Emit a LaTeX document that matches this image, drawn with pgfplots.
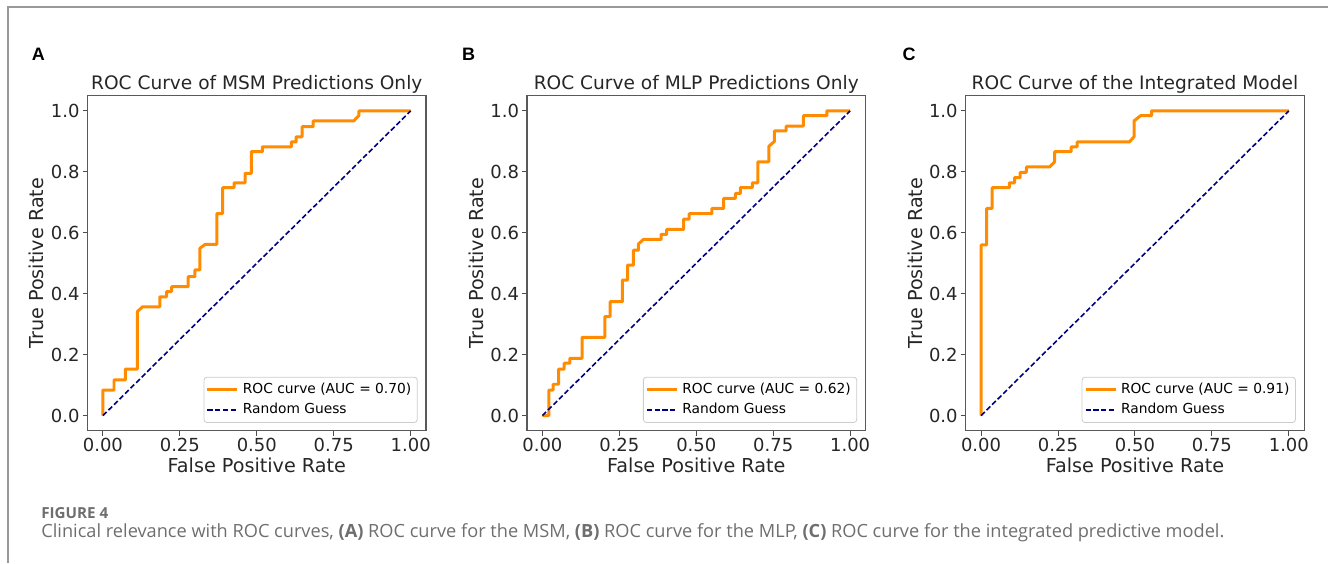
\documentclass[border=0pt]{standalone}
\usepackage{fontspec}
\setmainfont{DejaVu Sans}
\newfontfamily\capfont{Open Sans}
\newfontfamily\letfont{Liberation Sans}
\usepackage{pgfplots}
\pgfplotsset{compat=1.18}
\definecolor{roc}{HTML}{FF8C00}
\definecolor{guess}{HTML}{000080}
\definecolor{capgray}{HTML}{6E6E6E}

\tikzset{letter/.style={anchor=base west, inner sep=0pt, font=\letfont\fontsize{9}{10}\selectfont\bfseries}}

\pgfplotsset{
  rocaxis/.style={
    scale only axis,
    width=169.4pt, height=167.75pt,
    anchor=south west,
    xmin=-0.05, xmax=1.05, ymin=-0.05, ymax=1.05,
    xtick={0,0.25,0.5,0.75,1},
    xticklabels={0.00,0.25,0.50,0.75,1.00},
    ytick={0,0.2,0.4,0.6,0.8,1},
    yticklabels={0.0,0.2,0.4,0.6,0.8,1.0},
    tick align=outside,
    major tick length=2.5pt,
    xtick pos=bottom, ytick pos=left,
    every tick/.style={black!70, line width=0.5pt},
    axis line style={black!65, line width=0.6pt},
    /pgf/number format/assume math mode=true,
    tick label style={font=\fontsize{9}{10}\selectfont, black!85},
    xticklabel style={yshift=2.5pt},
    yticklabel style={xshift=2pt},
    label style={font=\fontsize{9.6}{11}\selectfont, black!85},
    xlabel style={yshift=3.5pt},
    ylabel style={yshift=-3.5pt},
    title style={font=\fontsize{9.3}{11}\selectfont, black!85, yshift=-8.5pt},
    xlabel={False Positive Rate},
    ylabel={True Positive Rate},
    legend style={at={(1,0)}, anchor=south east, xshift=-4.2pt, yshift=4pt,
      draw=black!20, rounded corners=1.5pt, fill=white,
      font=\fontsize{6.9}{8}\selectfont, row sep=-0.8pt,
      inner xsep=1pt, inner ysep=1pt},
    legend cell align=left,
    legend image code/.code={\draw[##1] (0pt,0pt) -- (15pt,0pt);},
  },
  rocline/.style={roc, line width=1.5pt, line join=round},
  guessline/.style={guess, line width=0.8pt, dash pattern=on 2.6pt off 1.3pt},
}

\begin{document}
\begin{tikzpicture}
\path (0,0) rectangle (664.5pt,281.5pt);
\draw[black!40, line width=1pt] (4pt,0) -- (4pt,277.75pt) -- (664.5pt,277.75pt);

% panel A
\begin{axis}[rocaxis, at={(43.8pt,65.9pt)}, title={ROC Curve of MSM Predictions Only}]
\addplot[rocline] coordinates {
(0,0) (0,0.084) (0.036,0.084) (0.036,0.117) (0.073,0.117) (0.073,0.153)
(0.112,0.153) (0.112,0.341) (0.128,0.357) (0.185,0.357) (0.185,0.390)
(0.207,0.390) (0.207,0.407) (0.223,0.407) (0.223,0.423) (0.277,0.423)
(0.277,0.456) (0.299,0.456) (0.299,0.478) (0.315,0.478) (0.315,0.549)
(0.332,0.562) (0.370,0.562) (0.370,0.663) (0.389,0.663) (0.389,0.748)
(0.426,0.748) (0.426,0.764) (0.462,0.764) (0.462,0.795) (0.482,0.795)
(0.482,0.866) (0.518,0.866) (0.518,0.882) (0.612,0.882) (0.612,0.898)
(0.628,0.898) (0.628,0.915) (0.647,0.915) (0.647,0.948) (0.683,0.948)
(0.683,0.967) (0.815,0.967) (0.832,0.985) (0.832,1.0) (1,1)};
\addlegendentry{ROC curve (AUC = 0.70)}
\addplot[guessline] coordinates {(0,0) (1,1)};
\addlegendentry{Random Guess}
\end{axis}

% panel B
\begin{axis}[rocaxis, at={(263.7pt,65.9pt)}, title={ROC Curve of MLP Predictions Only}]
\addplot[rocline] coordinates {
(0,0) (0.021,0) (0.021,0.084) (0.035,0.084) (0.035,0.103) (0.053,0.103)
(0.053,0.153) (0.071,0.153) (0.071,0.172) (0.089,0.172) (0.089,0.188)
(0.129,0.188) (0.129,0.257) (0.203,0.257) (0.203,0.325) (0.220,0.325)
(0.220,0.374) (0.260,0.374) (0.260,0.445) (0.277,0.445) (0.277,0.494)
(0.296,0.494) (0.296,0.543) (0.312,0.543) (0.312,0.563) (0.328,0.578)
(0.386,0.578) (0.386,0.595) (0.404,0.595) (0.404,0.611) (0.459,0.611)
(0.459,0.645) (0.477,0.645) (0.477,0.663) (0.551,0.663) (0.551,0.680)
(0.589,0.680) (0.589,0.713) (0.627,0.713) (0.627,0.729) (0.643,0.729)
(0.643,0.748) (0.682,0.748) (0.682,0.764) (0.700,0.764) (0.700,0.833)
(0.736,0.833) (0.736,0.884) (0.754,0.900) (0.754,0.934) (0.792,0.934)
(0.792,0.950) (0.848,0.950) (0.848,0.984) (0.924,0.984) (0.924,1.0) (1,1)};
\addlegendentry{ROC curve (AUC = 0.62)}
\addplot[guessline] coordinates {(0,0) (1,1)};
\addlegendentry{Random Guess}
\end{axis}

% panel C
\begin{axis}[rocaxis, at={(483.2pt,65.9pt)}, title={ROC Curve of the Integrated Model}]
\addplot[rocline] coordinates {
(0,0) (0,0.56) (0.018,0.56) (0.018,0.68) (0.036,0.68) (0.036,0.748)
(0.092,0.748) (0.092,0.764) (0.109,0.764) (0.109,0.781) (0.127,0.781)
(0.127,0.798) (0.147,0.798) (0.147,0.816) (0.223,0.816) (0.239,0.833)
(0.239,0.866) (0.293,0.866) (0.293,0.882) (0.312,0.882) (0.312,0.898)
(0.482,0.898) (0.497,0.915) (0.497,0.967) (0.518,0.984) (0.554,0.984)
(0.554,1.0) (1,1)};
\addlegendentry{ROC curve (AUC = 0.91)}
\addplot[guessline] coordinates {(0,0) (1,1)};
\addlegendentry{Random Guess}
\end{axis}

\node[letter] at (15.8pt,251pt) {A};
\node[letter] at (231pt,251pt) {B};
\node[letter] at (451.5pt,251pt) {C};

\node[anchor=base west, inner sep=0pt, text=capgray, font=\capfont\fontsize{7.6}{8}\selectfont\bfseries] at (20.5pt,22pt) {FIGURE 4};
\node[anchor=base west, inner sep=0pt, text=capgray, font=\capfont\fontsize{9.1}{10}\selectfont] at (20.5pt,12.5pt)
  {Clinical relevance with ROC curves, \textbf{(A)} ROC curve for the MSM, \textbf{(B)} ROC curve for the MLP, \textbf{(C)} ROC curve for the integrated predictive model.};
\end{tikzpicture}
\end{document}
